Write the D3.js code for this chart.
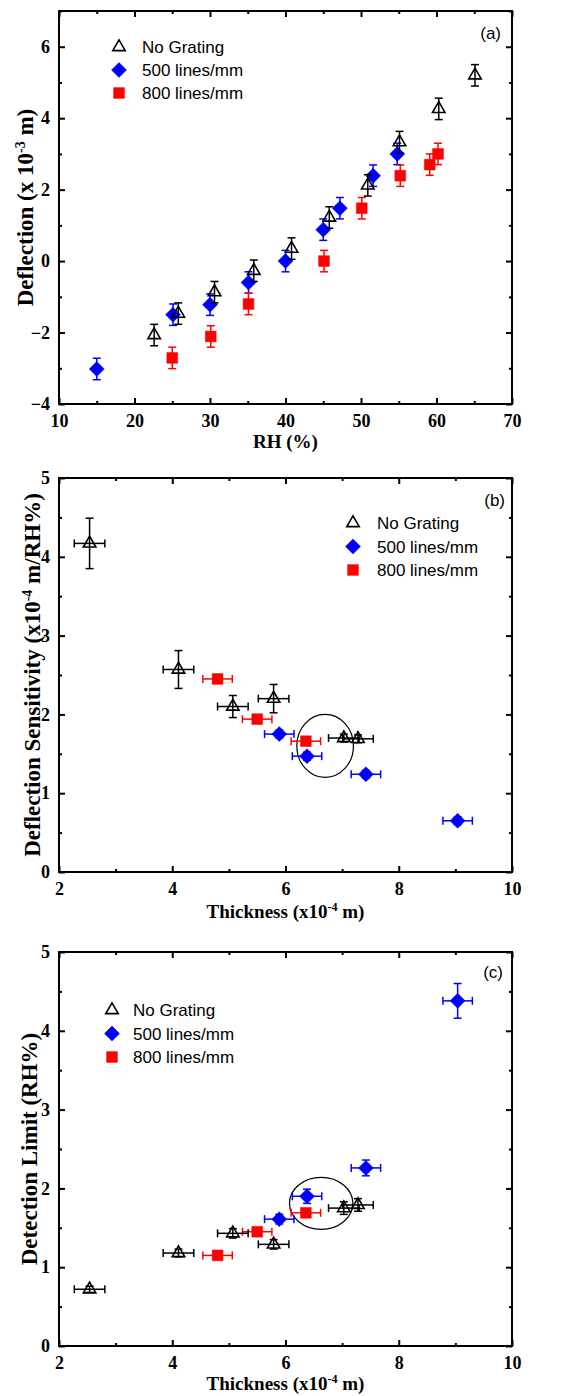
<!DOCTYPE html>
<html>
<head>
<meta charset="utf-8">
<script src="https://cdn.jsdelivr.net/npm/d3@7"></script>
<style>
body { margin: 0; background: #fff; }
svg { display: block; }
.title { font-family: "Liberation Serif", "Times New Roman", serif; font-weight: bold; font-size: 19px; fill: #000; }
.legend, .panelTag { font-family: "Liberation Sans", Arial, sans-serif; font-size: 17px; fill: #000; }
</style>
</head>
<body>
<div id="chart"></div>
<script>

// panel (a): deflection vs RH
var rhNoGrating = [22.6, 25.8, 30.6, 35.8, 40.8, 45.8, 50.9, 55.1, 60.3, 65.1];
var defNoGrating = [-2.07, -1.47, -0.87, -0.27, 0.35, 1.22, 2.12, 3.33, 4.26, 5.2];
var defErrNoGrating = [0.3, 0.3, 0.3, 0.3, 0.3, 0.3, 0.3, 0.3, 0.3, 0.3];
var rh500 = [15, 25.1, 30, 35.1, 40, 45, 47.2, 51.6, 54.8];
var def500 = [-3.02, -1.5, -1.22, -0.6, 0, 0.88, 1.48, 2.39, 3.0];
var defErr500 = [0.3, 0.3, 0.3, 0.3, 0.3, 0.3, 0.3, 0.3, 0.3];
var rh800 = [25, 30.1, 35.1, 45.1, 50.1, 55.2, 59.1, 60.2];
var def800 = [-2.71, -2.11, -1.2, 0, 1.48, 2.39, 2.7, 3.0];
var defErr800 = [0.3, 0.3, 0.3, 0.3, 0.3, 0.3, 0.3, 0.3];

// panels (b) and (c): thickness
var thickNoGrating = [2.54, 4.11, 5.07, 5.79, 7.03, 7.28];
var thickErrNoGrating = [0.27, 0.27, 0.27, 0.27, 0.27, 0.27];
var thick500 = [5.89, 6.38, 7.42, 9.04];
var thickErr500 = [0.26, 0.26, 0.26, 0.26];
var thick800 = [4.8, 5.5, 6.36];
var thickErr800 = [0.26, 0.26, 0.26];

// panel (b): deflection sensitivity
var sensNoGrating = [4.17, 2.57, 2.1, 2.2, 1.7, 1.69];
var sensErrNoGrating = [0.32, 0.24, 0.14, 0.18, 0.05, 0.05];
var sens500 = [1.75, 1.47, 1.24, 0.65];
var sensErr500 = [0.05, 0.05, 0.05, 0.05];
var sens800 = [2.45, 1.94, 1.66];
var sensErr800 = [0.04, 0.04, 0.04];

// panel (c): detection limit
var limNoGrating = [0.72, 1.18, 1.43, 1.29, 1.75, 1.79];
var limErrNoGrating = [0.04, 0.05, 0.06, 0.06, 0.08, 0.08];
var lim500 = [1.61, 1.9, 2.26, 4.38];
var limErr500 = [0.06, 0.09, 0.1, 0.22];
var lim800 = [1.15, 1.45, 1.69];
var limErr800 = [0.05, 0.05, 0.05];

// highlighted group (cx, cy, rx, ry in data units)
var ringB = [6.70, 1.60, 0.5, 0.4];
var ringC = [6.63, 1.81, 0.56, 0.33];

var seriesNames = ["No Grating", "500 lines/mm", "800 lines/mm"];

var rhTicks = [10, 20, 30, 40, 50, 60, 70];
var rhMinor = [15, 25, 35, 45, 55, 65];
var defTicks = [-4, -2, 0, 2, 4, 6];
var defMinor = [-3, -1, 1, 3, 5, 7];
var thickTicks = [2, 4, 6, 8, 10];
var thickMinor = [3, 5, 7, 9];
var unitTicks = [0, 1, 2, 3, 4, 5];
var halfMinor = [0.5, 1.5, 2.5, 3.5, 4.5];

var W = 566, H = 1396;
var left = 59, right = 512;

var svg = d3.select("#chart").append("svg")
    .attr("width", W)
    .attr("height", H);

var zip = function(xs, ys, xe, ye){
    return xs.map(function(x, i){
        return {x: x, y: ys[i], xe: xe ? xe[i] : 0, ye: ye ? ye[i] : 0};
    });
};

var markerPath = function(kind){
    if (kind == "tri") {
        var s = 12.5, h = s * Math.sqrt(3) / 2;
        return "M0," + (-h * 2 / 3) + "L" + (s / 2) + "," + (h / 3) + "L" + (-s / 2) + "," + (h / 3) + "Z";
    }
    if (kind == "dia") return "M0,-7.5L7.5,0L0,7.5L-7.5,0Z";
    return "M-5.4,-5.4H5.4V5.4H-5.4Z";
};

var styles = [
    {kind: "tri", color: "#000"},
    {kind: "dia", color: "#0000ff"},
    {kind: "sq", color: "#ff0000"}
];

var drawMarker = function(g, st){
    g.append("path")
        .attr("d", markerPath(st.kind))
        .style("fill", st.kind == "tri" ? "none" : st.color)
        .style("stroke", st.color)
        .style("stroke-width", st.kind == "tri" ? 1.6 : 0.5)
        .style("stroke-linejoin", "miter");
};

var drawPanel = function(p){
    var x = d3.scaleLinear().domain(p.xDomain).range([left, right]);
    var y = d3.scaleLinear().domain(p.yDomain).range([p.bottom, p.top]);
    var g = svg.append("g");
    var fmt = d3.format("d");

    // major and minor ticks pointing inward, all four sides
    var axes = [
        [d3.axisBottom, x, "translate(0," + p.bottom + ")", p.xTicks, p.xMinor, true, 10],
        [d3.axisTop, x, "translate(0," + p.top + ")", p.xTicks, p.xMinor, false, 10],
        [d3.axisLeft, y, "translate(" + left + ",0)", p.yTicks, p.yMinor, true, 9],
        [d3.axisRight, y, "translate(" + right + ",0)", p.yTicks, p.yMinor, false, 9]
    ];
    axes.forEach(function(a){
        var gen = a[0](a[1]).tickValues(a[3]).tickSize(-6).tickPadding(a[6])
            .tickFormat(a[5] ? fmt : "");
        var ax = g.append("g").attr("transform", a[2]).call(gen);
        ax.select(".domain").remove();
        ax.selectAll(".tick line").style("stroke", "#000").style("stroke-width", 2);
        ax.selectAll(".tick text")
            .style("font-family", "'Liberation Serif', 'Times New Roman', serif")
            .style("font-weight", "bold")
            .style("font-size", "18px")
            .style("fill", "#000");

        var mx = g.append("g").attr("transform", a[2])
            .call(a[0](a[1]).tickValues(a[4]).tickSize(-3).tickFormat(""));
        mx.select(".domain").remove();
        mx.selectAll(".tick line").style("stroke", "#000").style("stroke-width", 2);
    });

    g.append("rect")
        .attr("x", left).attr("y", p.top)
        .attr("width", right - left).attr("height", p.bottom - p.top)
        .style("fill", "none").style("stroke", "#000").style("stroke-width", 2);

    if (p.ring) {
        g.append("ellipse")
            .attr("cx", x(p.ring[0])).attr("cy", y(p.ring[1]))
            .attr("rx", x(p.ring[0] + p.ring[2]) - x(p.ring[0]))
            .attr("ry", y(p.ring[1]) - y(p.ring[1] + p.ring[3]))
            .style("fill", "none").style("stroke", "#000").style("stroke-width", 1.2);
    }

    // series: blue, red, then black on top
    [1, 2, 0].forEach(function(si){
        var st = styles[si];
        var pts = p.series[si];
        var sg = g.append("g");
        var cap = 4;
        pts.forEach(function(d){
            var cx = x(d.x), cy = y(d.y);
            var eg = sg.append("g").style("stroke", st.color).style("stroke-width", 1.5);
            if (d.ye > 0) {
                var y1 = y(d.y + d.ye), y2 = y(d.y - d.ye);
                eg.append("line").attr("x1", cx).attr("x2", cx).attr("y1", y1).attr("y2", y2);
                eg.append("line").attr("x1", cx - cap).attr("x2", cx + cap).attr("y1", y1).attr("y2", y1);
                eg.append("line").attr("x1", cx - cap).attr("x2", cx + cap).attr("y1", y2).attr("y2", y2);
            }
            if (d.xe > 0) {
                var x1 = x(d.x - d.xe), x2 = x(d.x + d.xe);
                eg.append("line").attr("x1", x1).attr("x2", x2).attr("y1", cy).attr("y2", cy);
                eg.append("line").attr("x1", x1).attr("x2", x1).attr("y1", cy - cap).attr("y2", cy + cap);
                eg.append("line").attr("x1", x2).attr("x2", x2).attr("y1", cy - cap).attr("y2", cy + cap);
            }
            var mg = sg.append("g").attr("transform", "translate(" + cx + "," + cy + ")");
            drawMarker(mg, st);
        });
    });

    // legend
    seriesNames.forEach(function(name, i){
        var ly = p.legend[1] + i * p.legend[3];
        var mg = g.append("g").attr("transform", "translate(" + p.legend[0] + "," + ly + ")");
        drawMarker(mg, styles[i]);
        g.append("text")
            .classed("legend", true)
            .attr("x", p.legend[2])
            .attr("y", ly)
            .attr("dy", "0.36em")
            .text(name);
    });

    g.append("text")
        .classed("panelTag", true)
        .attr("text-anchor", "end")
        .attr("x", p.tag[0]).attr("y", p.tag[1])
        .attr("dy", "0.36em")
        .text(p.tag[2]);

    // x title
    var xt = g.append("text")
        .classed("title", true)
        .attr("text-anchor", "middle")
        .attr("x", (left + right) / 2)
        .attr("y", p.xTitleY);
    p.xTitle.forEach(function(part){
        xt.append("tspan")
            .attr("dy", part[1])
            .style("font-size", part[2] || null)
            .text(part[0]);
    });

    // y title
    var yt = g.append("text")
        .classed("title", true)
        .style("font-size", "23px")
        .attr("text-anchor", "middle")
        .attr("transform", "translate(" + p.yTitleX + "," + ((p.top + p.bottom) / 2) + ") rotate(-90)");
    p.yTitle.forEach(function(part){
        yt.append("tspan")
            .attr("dy", part[1])
            .style("font-size", part[2] || null)
            .text(part[0]);
    });
};

drawPanel({
    top: 11, bottom: 404,
    xDomain: [10, 70], yDomain: [-4, 7],
    xTicks: rhTicks, xMinor: rhMinor, yTicks: defTicks, yMinor: defMinor,
    series: [
        zip(rhNoGrating, defNoGrating, null, defErrNoGrating),
        zip(rh500, def500, null, defErr500),
        zip(rh800, def800, null, defErr800)
    ],
    legend: [119, 47, 142, 23],
    tag: [501, 33, "(a)"],
    xTitle: [["RH (%)", 0]],
    xTitleY: 448,
    yTitle: [["Deflection (x 10", 0], ["-3", -8, "14px"], [" m)", 8]],
    yTitleX: 33
});

drawPanel({
    top: 478, bottom: 872,
    xDomain: [2, 10], yDomain: [0, 5],
    xTicks: thickTicks, xMinor: thickMinor, yTicks: unitTicks, yMinor: halfMinor,
    series: [
        zip(thickNoGrating, sensNoGrating, thickErrNoGrating, sensErrNoGrating),
        zip(thick500, sens500, thickErr500, sensErr500),
        zip(thick800, sens800, thickErr800, sensErr800)
    ],
    ring: ringB,
    legend: [353, 523, 377, 23.5],
    tag: [505, 500, "(b)"],
    xTitle: [["Thickness (x10", 0], ["-4", -7, "12px"], [" m)", 7]],
    xTitleY: 918,
    yTitle: [["Deflection Sensitivity (x10", 0], ["-4", -8, "14px"], [" m/RH%)", 8]],
    yTitleX: 40
});

drawPanel({
    top: 952, bottom: 1346,
    xDomain: [2, 10], yDomain: [0, 5],
    xTicks: thickTicks, xMinor: thickMinor, yTicks: unitTicks, yMinor: halfMinor,
    series: [
        zip(thickNoGrating, limNoGrating, thickErrNoGrating, limErrNoGrating),
        zip(thick500, lim500, thickErr500, limErr500),
        zip(thick800, lim800, thickErr800, limErr800)
    ],
    ring: ringC,
    legend: [112, 1010, 133, 23.5],
    tag: [503, 972, "(c)"],
    xTitle: [["Thickness (x10", 0], ["-4", -7, "12px"], [" m)", 7]],
    xTitleY: 1390,
    yTitle: [["Detection Limit (RH%)", 0]],
    yTitleX: 37
});

</script>
</body>
</html>
